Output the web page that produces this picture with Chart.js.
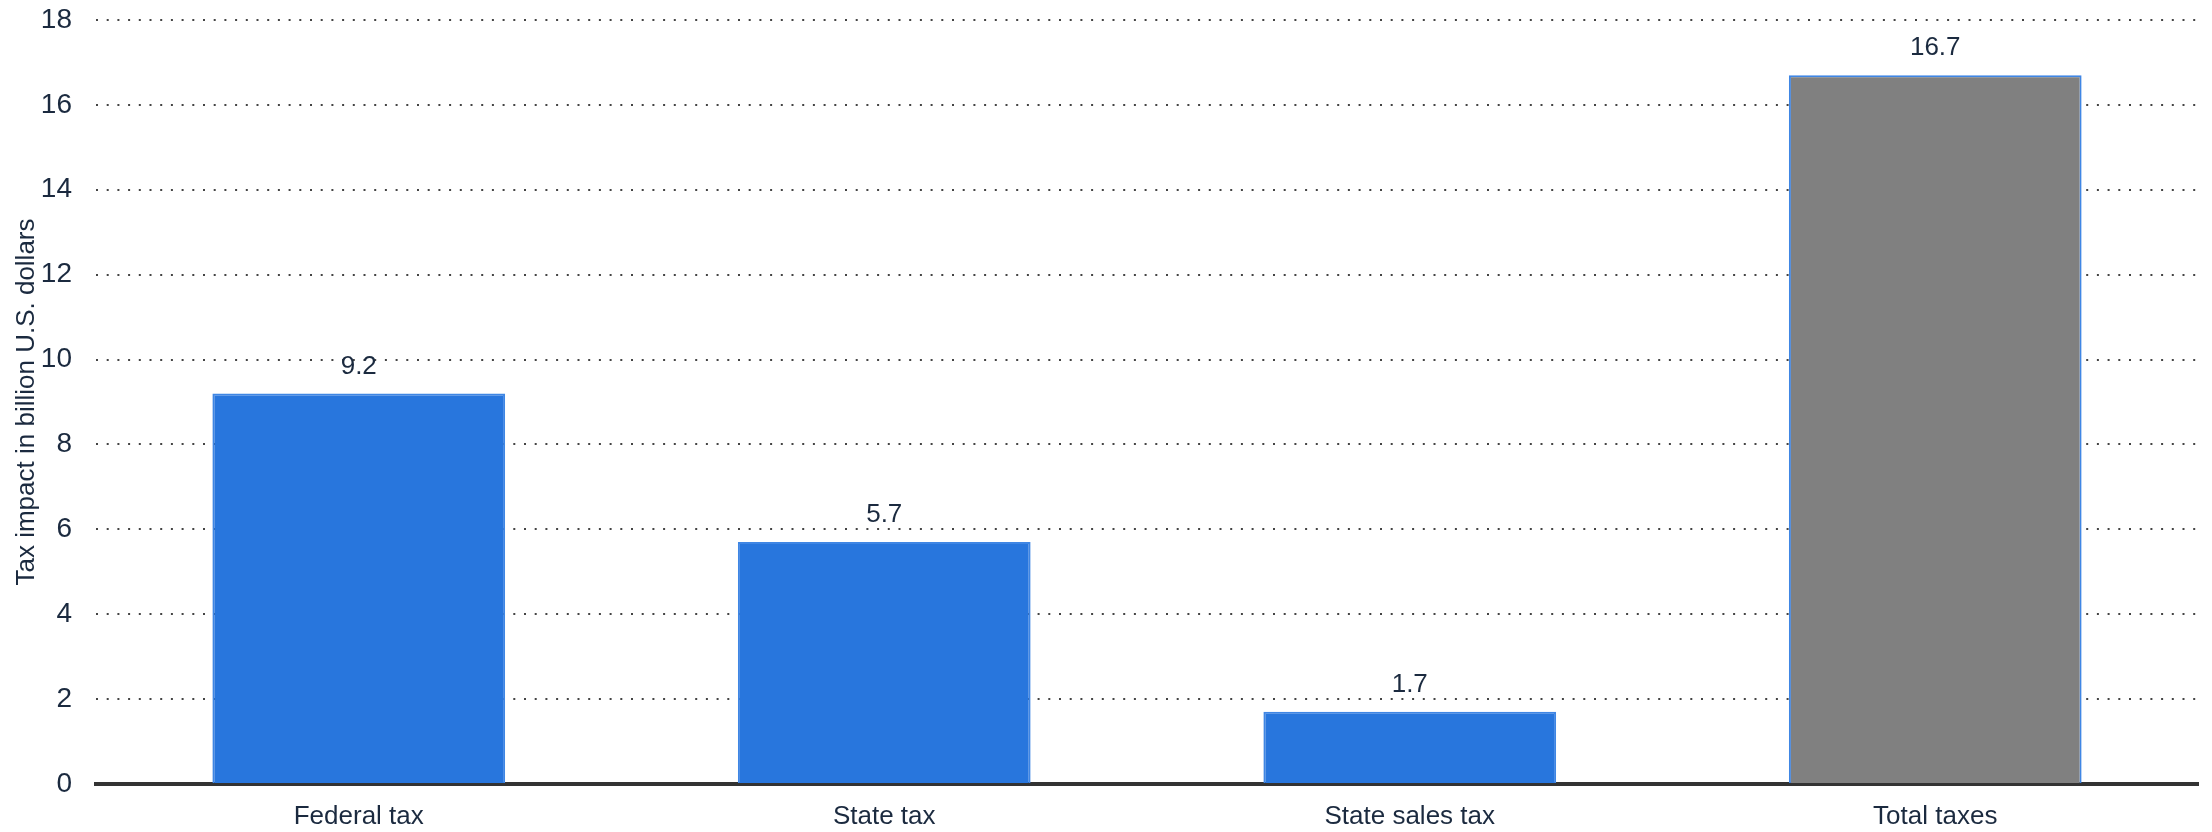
<!DOCTYPE html>
<html lang="en">
    <head>
        <meta charset="UTF-8" />
        <title>Tax impact</title>
        <script src="https://cdn.jsdelivr.net/npm/chart.js"></script>
        <style>
            html, body { margin: 0; padding: 0; background: #fff; }
            #wrap { width: 2212px; height: 832px; }
        </style>
    </head>
    <body>
        <div id="wrap"><canvas id="myChart" width="2212" height="832"></canvas></div>
        <script>
            // data
            const categories = ["Federal tax", "State tax", "State sales tax", "Total taxes"];
            const taxImpact = [9.2, 5.7, 1.7, 16.7];
            const barColors = ["#2876dd", "#2876dd", "#2876dd", "#808080"];
            const yTicks = [0, 2, 4, 6, 8, 10, 12, 14, 16, 18];

            const textColor = "#1b2a3f";
            const fontFamily = "'Liberation Sans', Arial, sans-serif";

            // value labels above the bars
            const valueLabels = {
                id: "valueLabels",
                afterDatasetsDraw(chart) {
                    const ctx = chart.ctx;
                    const meta = chart.getDatasetMeta(0);
                    ctx.save();
                    ctx.font = "26px " + fontFamily;
                    ctx.fillStyle = textColor;
                    ctx.textAlign = "center";
                    ctx.textBaseline = "alphabetic";
                    meta.data.forEach((bar, i) => {
                        ctx.fillText(taxImpact[i].toFixed(1), bar.x, bar.y - 20);
                    });
                    ctx.restore();
                },
            };

            const config = {
                type: "bar",
                data: {
                    labels: categories,
                    datasets: [
                        {
                            data: taxImpact,
                            backgroundColor: barColors,
                            borderColor: "#3f86e4",
                            borderWidth: 2,
                            borderSkipped: "bottom",
                            barPercentage: 0.557,
                            categoryPercentage: 1,
                        },
                    ],
                },
                options: {
                    responsive: false,
                    animation: false,
                    layout: { padding: { left: 0, right: 14, top: 20, bottom: 0 } },
                    plugins: {
                        legend: { display: false },
                        tooltip: { enabled: false },
                    },
                    scales: {
                        x: {
                            grid: { display: false, drawTicks: false },
                            border: { display: true, color: "#333333", width: 4 },
                            ticks: {
                                color: textColor,
                                font: { family: fontFamily, size: 26 },
                                padding: 17,
                            },
                            afterFit(scale) {
                                scale.height = 48;
                            },
                        },
                        y: {
                            min: 0,
                            max: 18,
                            afterBuildTicks(scale) {
                                scale.ticks = yTicks.map((v) => ({ value: v }));
                            },
                            grid: {
                                color: "#444444",
                                lineWidth: 2,
                                drawTicks: true,
                                tickLength: 24,
                                tickColor: "rgba(0,0,0,0)",
                            },
                            border: { display: false, dash: [2, 8.7] },
                            ticks: {
                                color: textColor,
                                font: { family: fontFamily, size: 28 },
                                padding: 0,
                            },
                            title: {
                                display: true,
                                text: "Tax impact in billion U.S. dollars",
                                color: textColor,
                                font: { family: fontFamily, size: 26 },
                                padding: { top: 11, bottom: 0 },
                            },
                            afterFit(scale) {
                                scale.width = 96;
                            },
                        },
                    },
                },
                plugins: [valueLabels],
            };

            document.addEventListener("DOMContentLoaded", function () {
                const ctx = document.getElementById("myChart").getContext("2d");
                new Chart(ctx, config);
            });
        </script>
    </body>
</html>
